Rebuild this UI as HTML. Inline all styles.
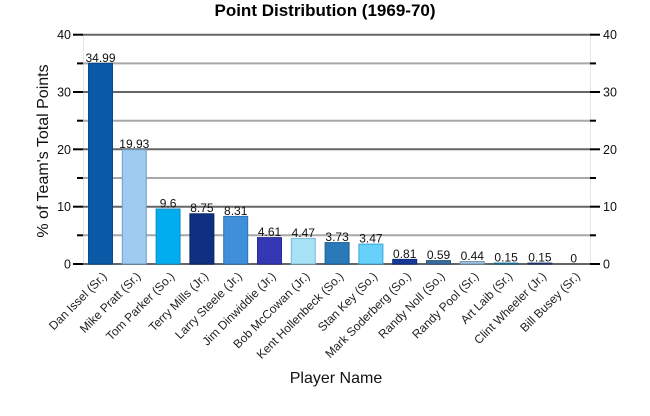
<!DOCTYPE html>
<html><head><meta charset="utf-8"><style>
html,body{margin:0;padding:0;background:#fff;}
svg{display:block;font-family:"Liberation Sans",Arial,sans-serif;}
</style></head><body>
<svg width="650" height="416" viewBox="0 0 650 416" xmlns="http://www.w3.org/2000/svg">
<rect width="650" height="416" fill="#fff"/>
<text x="325" y="16" text-anchor="middle" font-size="17" font-weight="bold" fill="#000">Point Distribution (1969-70)</text>
<line x1="83.5" y1="35" x2="83.5" y2="264" stroke="#e6e6e6" stroke-width="1"/>
<line x1="590.5" y1="35" x2="590.5" y2="264" stroke="#e6e6e6" stroke-width="1"/>
<g stroke="#a8a8a8" stroke-width="2">
<line x1="83" y1="63.4" x2="590" y2="63.4"/>
<line x1="83" y1="120.7" x2="590" y2="120.7"/>
<line x1="83" y1="178" x2="590" y2="178"/>
<line x1="83" y1="235.3" x2="590" y2="235.3"/>
</g>
<g stroke="#666" stroke-width="2">
<line x1="83" y1="34.7" x2="590" y2="34.7"/>
<line x1="83" y1="92" x2="590" y2="92"/>
<line x1="83" y1="149.3" x2="590" y2="149.3"/>
<line x1="83" y1="206.7" x2="590" y2="206.7"/>
<line x1="83" y1="264" x2="590" y2="264"/>
</g>
<g stroke="#000" stroke-width="2">
<line x1="73" y1="34.7" x2="83" y2="34.7"/>
<line x1="73" y1="92" x2="83" y2="92"/>
<line x1="73" y1="149.3" x2="83" y2="149.3"/>
<line x1="73" y1="206.7" x2="83" y2="206.7"/>
<line x1="73" y1="264" x2="83" y2="264"/>
<line x1="77" y1="63.4" x2="83" y2="63.4"/>
<line x1="77" y1="120.7" x2="83" y2="120.7"/>
<line x1="77" y1="178" x2="83" y2="178"/>
<line x1="77" y1="235.3" x2="83" y2="235.3"/>
<line x1="590" y1="34.7" x2="600" y2="34.7"/>
<line x1="590" y1="92" x2="600" y2="92"/>
<line x1="590" y1="149.3" x2="600" y2="149.3"/>
<line x1="590" y1="206.7" x2="600" y2="206.7"/>
<line x1="590" y1="264" x2="600" y2="264"/>
<line x1="590" y1="63.4" x2="596" y2="63.4"/>
<line x1="590" y1="120.7" x2="596" y2="120.7"/>
<line x1="590" y1="178" x2="596" y2="178"/>
<line x1="590" y1="235.3" x2="596" y2="235.3"/>
</g>
<g font-size="12.5" fill="#111" text-anchor="end">
<text x="71" y="39.2">40</text>
<text x="71" y="96.5">30</text>
<text x="71" y="153.8">20</text>
<text x="71" y="211.2">10</text>
<text x="71" y="268.5">0</text>
</g>
<g font-size="12.5" fill="#111" text-anchor="start">
<text x="603" y="39.2">40</text>
<text x="603" y="96.5">30</text>
<text x="603" y="153.8">20</text>
<text x="603" y="211.2">10</text>
<text x="603" y="268.5">0</text>
</g>
<g stroke-width="1">
<rect x="88.5" y="63.4" width="24" height="200.6" fill="#0a5aa8" stroke="#084a8c"/>
<rect x="122.3" y="149.7" width="24" height="114.3" fill="#9ecbee" stroke="#6d9ec9"/>
<rect x="156.1" y="209" width="24" height="55" fill="#00aeef" stroke="#1a8cc2"/>
<rect x="189.9" y="213.8" width="24" height="50.2" fill="#0f2f80" stroke="#0b2464"/>
<rect x="223.7" y="216.4" width="24" height="47.6" fill="#3f8fda" stroke="#2f75b8"/>
<rect x="257.5" y="237.6" width="24" height="26.4" fill="#3538b5" stroke="#282b90"/>
<rect x="291.3" y="238.4" width="24" height="25.6" fill="#a6e1f6" stroke="#7cbbd6"/>
<rect x="325.1" y="242.6" width="24" height="21.4" fill="#2a79b8" stroke="#1f5f94"/>
<rect x="358.9" y="244.1" width="24" height="19.9" fill="#66d1fb" stroke="#3fa8d4"/>
<rect x="392.7" y="259.4" width="24" height="4.6" fill="#173a9a" stroke="#102c7a"/>
<rect x="426.5" y="260.6" width="24" height="3.4" fill="#3a6ea0" stroke="#2c5680"/>
<rect x="460.3" y="261.5" width="24" height="2.5" fill="#9ec0dc" stroke="#7a9ab8"/>
<rect x="494.1" y="263.1" width="24" height="0.9" fill="#1e7fb0" stroke="#1a6a94"/>
<rect x="527.9" y="263.1" width="24" height="0.9" fill="#2a4080" stroke="#203266"/>
</g>
<g font-size="12" fill="#111" text-anchor="middle">
<text x="100.5" y="61.8">34.99</text>
<text x="134.3" y="148.1">19.93</text>
<text x="168.1" y="207.4">9.6</text>
<text x="201.9" y="212.2">8.75</text>
<text x="235.7" y="214.8">8.31</text>
<text x="269.5" y="236">4.61</text>
<text x="303.3" y="236.8">4.47</text>
<text x="337.1" y="241">3.73</text>
<text x="370.9" y="242.5">3.47</text>
<text x="404.7" y="257.8">0.81</text>
<text x="438.5" y="259">0.59</text>
<text x="472.3" y="259.9">0.44</text>
<text x="506.1" y="261.5">0.15</text>
<text x="539.9" y="261.5">0.15</text>
<text x="573.7" y="262.4">0</text>
</g>
<g font-size="12" fill="#222" text-anchor="end">
<text transform="translate(107.5,277) rotate(-45)">Dan Issel (Sr.)</text>
<text transform="translate(141.3,277) rotate(-45)">Mike Pratt (Sr.)</text>
<text transform="translate(175.1,277) rotate(-45)">Tom Parker (So.)</text>
<text transform="translate(208.9,277) rotate(-45)">Terry Mills (Jr.)</text>
<text transform="translate(242.7,277) rotate(-45)">Larry Steele (Jr.)</text>
<text transform="translate(276.5,277) rotate(-45)">Jim Dinwiddie (Jr.)</text>
<text transform="translate(310.3,277) rotate(-45)">Bob McCowan (Jr.)</text>
<text transform="translate(344.1,277) rotate(-45)">Kent Hollenbeck (So.)</text>
<text transform="translate(377.9,277) rotate(-45)">Stan Key (So.)</text>
<text transform="translate(411.7,277) rotate(-45)">Mark Soderberg (So.)</text>
<text transform="translate(445.5,277) rotate(-45)">Randy Noll (So.)</text>
<text transform="translate(479.3,277) rotate(-45)">Randy Pool (Sr.)</text>
<text transform="translate(513.1,277) rotate(-45)">Art Laib (Sr.)</text>
<text transform="translate(546.9,277) rotate(-45)">Clint Wheeler (Jr.)</text>
<text transform="translate(580.7,277) rotate(-45)">Bill Busey (Sr.)</text>
</g>
<text x="336" y="383" text-anchor="middle" font-size="16" fill="#111">Player Name</text>
<text transform="translate(48,151) rotate(-90)" text-anchor="middle" font-size="16" fill="#111">% of Team's Total Points</text>
</svg>
</body></html>
